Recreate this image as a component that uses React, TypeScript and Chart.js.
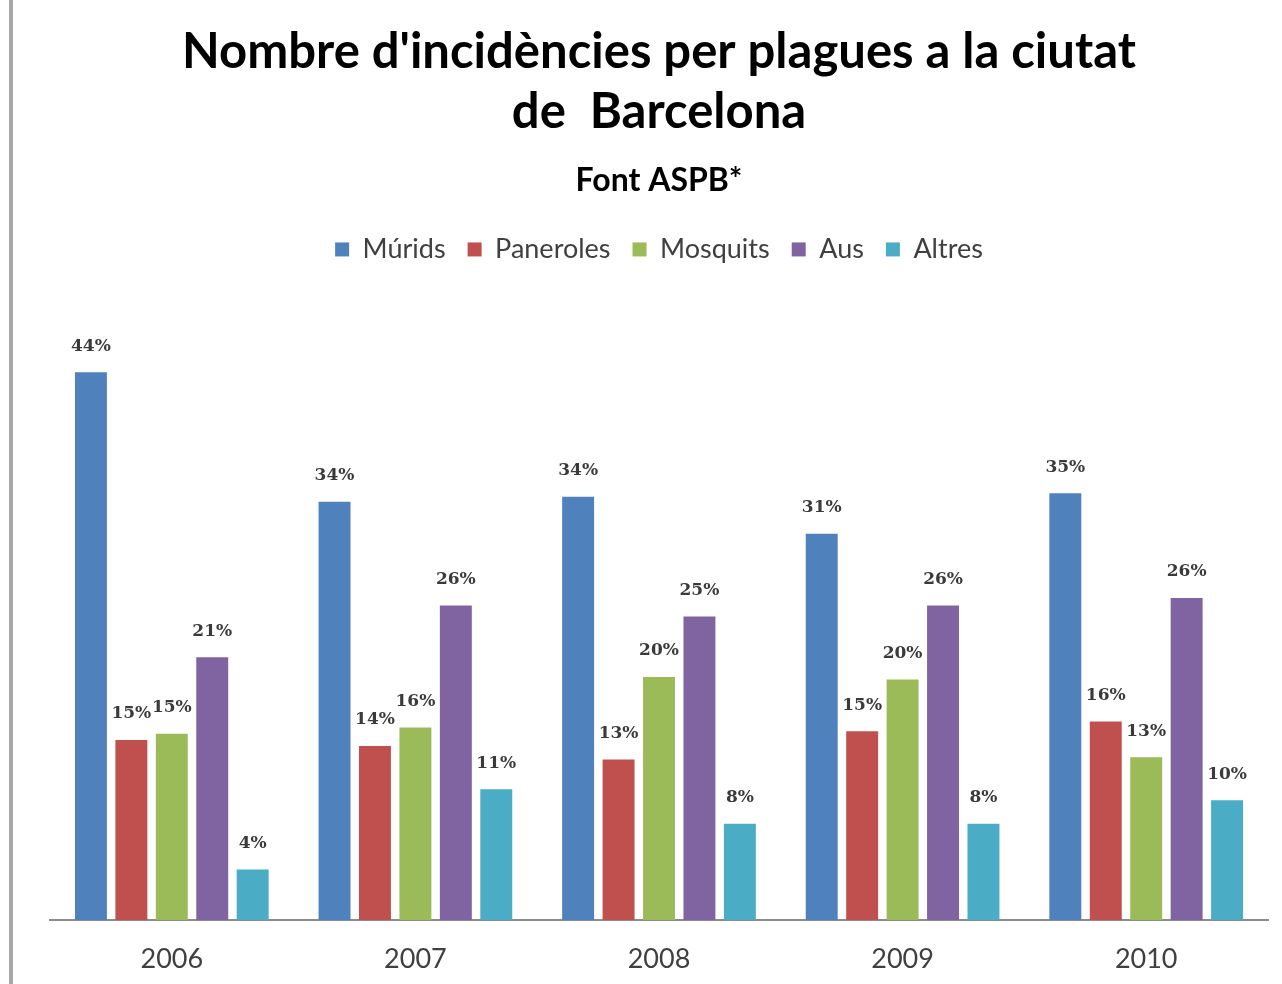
import React, { useEffect, useRef } from "react";
import { Chart, registerables } from "chart.js";

Chart.register(...registerables);

const categories = ["2006", "2007", "2008", "2009", "2010"];
const murids = [44.4, 33.9, 34.3, 31.3, 34.6];
const paneroles = [14.6, 14.1, 13.0, 15.3, 16.1];
const mosquits = [15.1, 15.6, 19.7, 19.5, 13.2];
const aus = [21.3, 25.5, 24.6, 25.5, 26.1];
const altres = [4.1, 10.6, 7.8, 7.8, 9.7];

const seriesNames = ["Múrids", "Paneroles", "Mosquits", "Aus", "Altres"];
const seriesColors = ["#4F81BD", "#C0504D", "#9BBB59", "#8064A2", "#4BACC6"];

const valueLabels = {
  id: "valueLabels",
  afterDatasetsDraw(chart: any) {
    const ctx = chart.ctx;
    ctx.save();
    ctx.font = "bold 17px 'DejaVu Serif'";
    ctx.fillStyle = "#3a3a3a";
    ctx.textAlign = "center";
    ctx.textBaseline = "middle";
    chart.data.datasets.forEach((ds: any, i: number) => {
      const meta = chart.getDatasetMeta(i);
      meta.data.forEach((el: any, j: number) => {
        const v = ds.data[j];
        ctx.fillText(`${Math.round(v)}%`, el.x, el.y - 26);
      });
    });
    ctx.restore();
  },
};

export default function App() {
  const ref = useRef<HTMLCanvasElement | null>(null);
  useEffect(() => {
    if (!ref.current) return;
    const seriesData = [murids, paneroles, mosquits, aus, altres];
    const chart = new Chart(ref.current, {
      type: "bar",
      data: {
        labels: categories,
        datasets: seriesData.map((d, i) => ({
          label: seriesNames[i],
          data: d,
          backgroundColor: seriesColors[i],
          borderWidth: 0,
          categoryPercentage: 0.83,
          barPercentage: 0.79,
        })),
      },
      options: {
        animation: false,
        responsive: false,
        layout: { padding: { left: 50, right: 14, top: 0, bottom: 0 } },
        plugins: {
          title: {
            display: true,
            text: ["Nombre d'incidències per plagues a la ciutat", "de  Barcelona"],
            color: "#000",
            font: { family: "Lato", size: 49, weight: "bold", lineHeight: 1.23 },
            padding: { top: 22, bottom: 19 },
          },
          subtitle: {
            display: true,
            text: "Font ASPB*",
            color: "#000",
            font: { family: "Lato", size: 32, weight: "bold", lineHeight: 1.2 },
            padding: { top: 0, bottom: 14 },
          },
          legend: {
            display: true,
            position: "top",
            labels: {
              color: "#404040",
              font: { family: "Lato", size: 27 },
              boxWidth: 14,
              boxHeight: 14,
              padding: 22,
            },
          },
          tooltip: { enabled: false },
        },
        scales: {
          x: {
            grid: { display: false },
            border: { display: true, color: "#8c8c8c", width: 2 },
            ticks: {
              color: "#404040",
              font: { family: "Lato", size: 27 },
              padding: 15,
            },
            afterFit(scale: any) {
              scale.height = 64;
            },
          },
          y: {
            display: false,
            min: 0,
            max: 52.45,
          },
        },
      },
      plugins: [valueLabels],
    });
    return () => chart.destroy();
  }, []);
  return (
    <div style={{ position: "fixed", left: 0, top: 0, width: 1282, height: 984, background: "#fff" }}>
      <div style={{ position: "absolute", left: 9, top: 0, width: 4, height: 984, background: "#a8a8a8" }} />
      <canvas ref={ref} width={1282} height={984} style={{ position: "absolute", left: 0, top: 0 }} />
    </div>
  );
}
